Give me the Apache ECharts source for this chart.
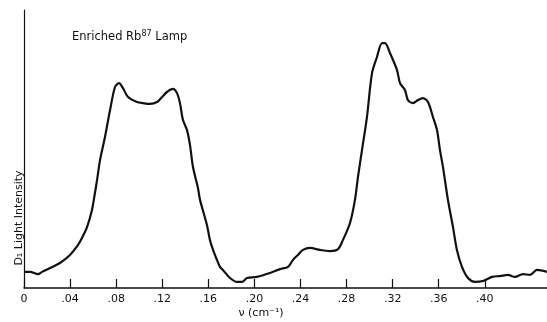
<!DOCTYPE html>
<html>
<head>
<meta charset="utf-8">
<script src="https://cdn.jsdelivr.net/npm/echarts@6/dist/echarts.min.js"></script>
<style>html,body{margin:0;padding:0;background:#fff}#c{width:547px;height:322px}</style>
</head>
<body>
<div id="c"></div>
<script>
const wavenumber = [0,0.0052,0.0122,0.0156,0.0226,0.0312,0.0399,0.0469,0.0503,0.0547,0.0590,0.0616,0.0634,0.0660,0.0703,0.0747,0.0790,0.0825,0.0859,0.0903,0.0981,0.1033,0.1094,0.1155,0.1198,0.1241,0.1293,0.1328,0.1354,0.1380,0.1415,0.1441,0.1467,0.1510,0.1528,0.1588,0.1614,0.1641,0.1675,0.1701,0.1727,0.1788,0.1849,0.1892,0.1936,0.2022,0.2135,0.2222,0.2292,0.2335,0.2378,0.2422,0.2483,0.2569,0.2656,0.2726,0.2769,0.2830,0.2873,0.2899,0.2934,0.2977,0.3021,0.3064,0.3108,0.3134,0.3177,0.3238,0.3264,0.3307,0.3333,0.3377,0.3420,0.3463,0.3507,0.3550,0.3585,0.3611,0.3637,0.3680,0.3724,0.3758,0.3802,0.3854,0.3915,0.3984,0.4062,0.4132,0.4201,0.4262,0.4331,0.4392,0.4453,0.4540];
const intensity = [5.8,5.8,5.0,5.8,7.2,9.0,11.9,15.5,18.0,21.9,28.1,34.2,38.8,46.0,54.3,64.0,72.3,73.7,71.9,68.7,66.9,66.5,66.2,66.9,68.7,70.5,71.6,70.1,66.5,60.4,56.8,51.4,43.5,36.0,31.7,22.7,17.3,13.7,10.1,7.6,6.5,3.6,2.2,2.2,3.6,4.0,5.4,6.8,7.6,10.1,11.9,13.7,14.4,13.7,13.3,14.0,17.3,23.4,31.7,39.9,49.6,61.5,77.3,83.1,88.1,88.1,84.5,78.4,73.7,71.2,67.6,66.5,67.6,68.3,66.9,61.5,56.8,49.6,43.5,31.7,21.9,13.7,7.6,3.6,2.2,2.5,4.0,4.3,4.7,4.0,5.0,4.7,6.5,5.8];
const tickValues = [0,0.04,0.08,0.12,0.16,0.20,0.24,0.28,0.32,0.36,0.40];
const titleText = 'Enriched Rb';
const titleSup = '87';
const titleEnd = ' Lamp';
const yName = 'D\u2081 Light Intensity';
const xName = '\u03bd (cm\u207b\u00b9)';

const font = 'DejaVu Sans';
const chart = echarts.init(document.getElementById('c'));
chart.setOption({
  animation: false,
  backgroundColor: '#fff',
  grid: {left: 24, right: 0, top: 10, bottom: 34},
  xAxis: {
    type: 'value', min: 0, max: 0.454,
    axisLine: {show: true, onZero: false, lineStyle: {color: '#111', width: 1.5}},
    axisTick: {show: true, inside: true, length: 9, customValues: tickValues, lineStyle: {color: '#111', width: 1.2}},
    axisLabel: {customValues: tickValues, color: '#111', fontFamily: font, fontSize: 11, margin: 6,
      formatter: v => v === 0 ? '0' : v.toFixed(2).replace(/^0/, '')},
    splitLine: {show: false}
  },
  yAxis: {
    type: 'value', min: 0, max: 100,
    axisLine: {show: true, lineStyle: {color: '#111', width: 1.2}},
    axisTick: {show: false}, axisLabel: {show: false}, splitLine: {show: false}
  },
  series: [{
    type: 'line', showSymbol: false, smooth: 0.3,
    data: wavenumber.map((x, i) => [x, intensity[i]]),
    lineStyle: {color: '#111', width: 2.2}
  }],
  graphic: [
    {type: 'text', left: 72, top: 30, style: {
      text: '{a|' + titleText + '}{s|' + titleSup + '}{a|' + titleEnd + '}',
      rich: {a: {fontFamily: font, fontSize: 11.5, fill: '#111', verticalAlign: 'bottom'},
             s: {fontFamily: font, fontSize: 8, fill: '#111', verticalAlign: 'top', padding: [0,0,5,0]}}
    }},
    {type: 'text', x: 19, y: 218, rotation: Math.PI / 2, style: {
      text: yName, fontFamily: font, fontSize: 11, fill: '#111', align: 'center', verticalAlign: 'middle'}},
    {type: 'text', x: 261, y: 313, style: {
      text: xName, fontFamily: font, fontSize: 11, fill: '#111', align: 'center', verticalAlign: 'middle'}}
  ]
});
</script>
</body>
</html>
